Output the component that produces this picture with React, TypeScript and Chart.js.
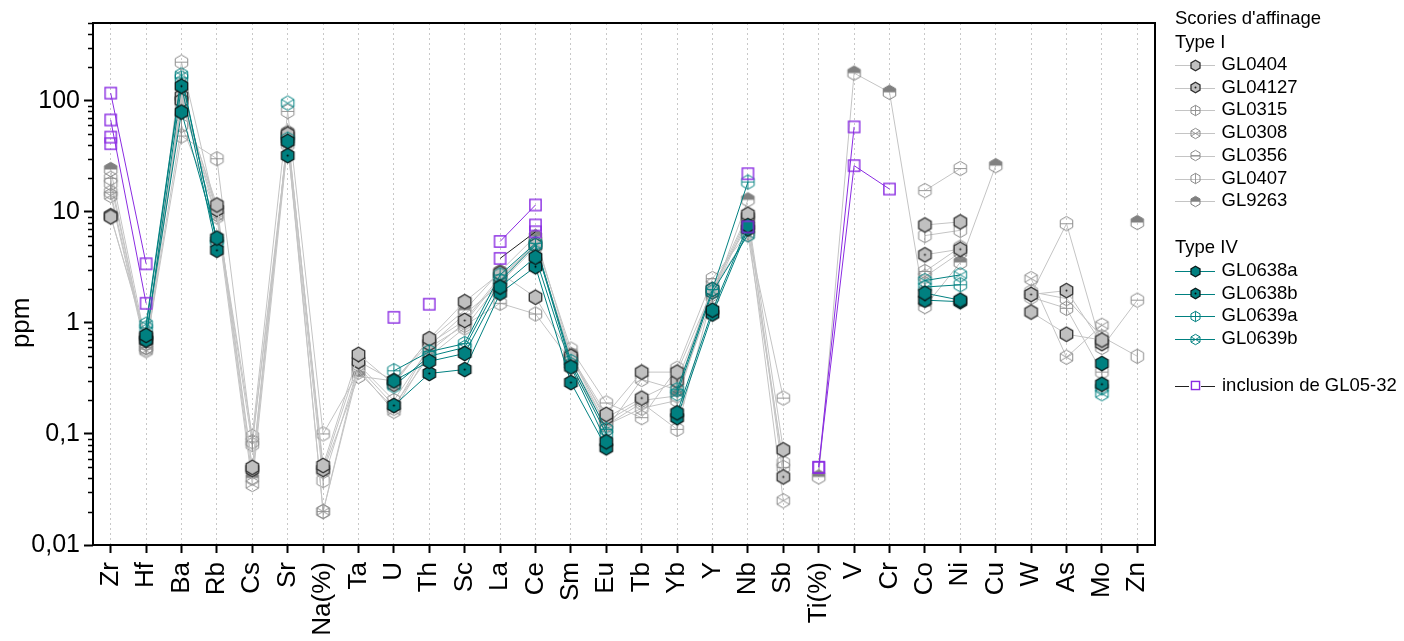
import { useEffect, useRef } from 'react';
import { Chart, registerables } from 'chart.js';
Chart.register(...registerables);

const FONT = "'Liberation Sans', Arial, sans-serif";

const categories = ['Zr', 'Hf', 'Ba', 'Rb', 'Cs', 'Sr', 'Na(%)', 'Ta', 'U', 'Th', 'Sc', 'La', 'Ce', 'Sm', 'Eu', 'Tb', 'Yb', 'Y', 'Nb', 'Sb', 'Ti(%)', 'V', 'Cr', 'Co', 'Ni', 'Cu', 'W', 'As', 'Mo', 'Zn'];
const yTickValues = [0.01, 0.1, 1, 10, 100];
const yTickLabels = ['0,01', '0,1', '1', '10', '100'];
const yTitle = 'ppm';

const _ = null;
// Type I
const GL0404 = [9, 0.75, 100, 11.5, 0.05, 50, 0.052, 0.52, 0.28, 0.72, 1.55, 2.8, 1.7, 0.5, 0.15, 0.36, 0.36, 2.0, 9.5, 0.072, _, _, _, 7.6, 8.1, _, 1.25, 0.79, 0.7, _];
const GL04127 = [9.2, 0.7, 110, 10.5, 0.048, 48, 0.048, 0.45, 0.3, 0.65, 1.05, 2.6, 5.0, 0.48, 0.14, 0.21, 0.3, 1.9, 9, 0.041, _, _, _, 4.1, 4.6, _, 1.8, 1.95, 0.65, _];
const GL0315 = [15, 0.6, 48, 30, 0.085, 45, 0.02, 0.42, 0.2, 0.6, 0.95, 1.5, 1.2, 0.45, 0.12, 0.19, 0.11, 1.8, 8.5, 0.05, _, _, _, 2.9, 4.8, _, 1.7, 1.35, 0.36, _];
const GL0308 = [14, 0.56, 100, 9, 0.035, 42, 0.02, 0.38, 0.16, 0.55, 1.0, 2.5, 5.2, 0.42, 0.11, 0.31, 0.25, 2.2, 7.5, 0.025, _, _, _, 2.6, 4.3, _, 2.5, 0.49, 0.95, _];
const GL0356 = [20, 0.58, 222, 9.5, 0.095, 80, 0.1, 0.36, 0.17, 0.62, 1.2, 2.2, 5.5, 0.58, 0.19, 0.14, 0.39, 2.5, 6.5, 0.21, _, _, _, 15.5, 24.5, _, 1.8, 7.8, 0.6, 1.6];
const GL0407 = [18, 0.6, 60, 9.5, 0.08, 40, 0.038, 0.4, 0.18, 0.5, 0.9, 2.3, 4.8, 0.5, 0.12, 0.17, 0.2, 2.0, 6.2, 0.055, _, _, _, 6.1, 6.8, _, 1.9, 1.65, 0.75, 0.5];
const GL9263 = [24, 0.65, 95, 10, 0.04, 52, 0.046, 0.33, 0.3, 0.7, 1.3, 2.9, 6.0, 0.52, 0.13, 0.2, 0.22, 1.7, 12.8, _, 0.041, 177, 119, 1.4, 3.5, 26, _, _, _, 8];
// Type IV
const GL0638a = [_, 0.77, 79, 5.8, _, 43, _, _, 0.3, 0.45, 0.53, 2.1, 3.9, 0.4, 0.085, _, 0.155, 1.3, 7.5, _, _, _, _, 1.85, 1.6, _, _, _, 0.43, _];
const GL0638b = [_, 0.7, 135, 4.5, _, 32, _, _, 0.18, 0.35, 0.38, 1.85, 3.2, 0.29, 0.075, _, 0.14, 1.2, 7.0, _, _, _, _, 1.6, 1.55, _, _, _, 0.28, _];
const GL0639a = [_, 0.9, 160, 5.5, _, 45, _, _, 0.37, 0.55, 0.65, 2.7, 5.2, 0.45, 0.11, _, 0.25, 2.0, 18.5, _, _, _, _, 2.1, 2.2, _, _, _, 0.26, _];
const GL0639b = [_, 0.97, 170, 5.2, _, 95, _, _, 0.27, 0.5, 0.6, 2.4, 5.0, 0.42, 0.1, _, 0.23, 1.9, 6.2, _, _, _, _, 2.4, 2.7, _, _, _, 0.23, _];
// inclusion de GL05-32 (several analyses)
const incA = [117, 3.4, _, _, _, _, _, _, _, _, _, 5.4, 11.5, _, _, _, _, _, _, _, 0.05, 58, _, _, _, _, _, _, _, _];
const incB = [67, 1.5, _, _, _, _, _, _, _, _, _, _, _, _, _, _, _, _, _, _, 0.05, 26, 16, _, _, _, _, _, _, _];
const incC = [47, _, _, _, _, _, _, _, 1.12, _, _, _, _, _, _, _, _, _, 22, _, _, _, _, _, _, _, _, _, _, _];
const incD = [41, _, _, _, _, _, _, _, _, 1.47, _, _, 7.6, _, _, _, _, _, 7.3, _, _, _, _, _, _, _, _, _, _, _];
const incE = [_, _, _, _, _, _, _, _, _, _, _, 3.8, 6.6, _, _, _, _, _, _, _, _, _, _, _, _, _, _, _, _, _];

type Inner = 'none' | 'dot' | 'plus' | 'x' | 'hline' | 'vline' | 'half';
type Spec = { shape: 'hex' | 'square'; fill: string; stroke: string; inner: Inner; innerColor: string; lw: number };

const GRAY_LINE = '#c4c4c4';
const TEAL = '#008080';
const PURPLE = '#8a2be2';

const specFilledGray = (inner: Inner): Spec => ({ shape: 'hex', fill: '#c0c0c0', stroke: '#303030', inner, innerColor: '#202020', lw: 1.3 });
const specOpenGray = (inner: Inner): Spec => ({ shape: 'hex', fill: 'rgba(0,0,0,0)', stroke: '#8c8c8c', inner, innerColor: '#8c8c8c', lw: 1 });
const specFilledTeal = (inner: Inner): Spec => ({ shape: 'hex', fill: TEAL, stroke: '#0a1a1a', inner, innerColor: '#000', lw: 1.3 });
const specOpenTeal = (inner: Inner): Spec => ({ shape: 'hex', fill: 'rgba(0,0,0,0)', stroke: TEAL, inner, innerColor: TEAL, lw: 1 });

function drawShape(ctx: CanvasRenderingContext2D, s: Spec, cx: number, cy: number, r: number) {
  ctx.save();
  ctx.lineWidth = s.lw;
  if (s.shape === 'square') {
    const h = r * 0.78;
    ctx.strokeStyle = PURPLE;
    ctx.lineWidth = 1.4;
    ctx.strokeRect(cx - h, cy - h, 2 * h, 2 * h);
    ctx.restore();
    return;
  }
  const pts: [number, number][] = [];
  for (let i = 0; i < 6; i++) {
    const a = (-90 + 60 * i) * Math.PI / 180;
    pts.push([cx + r * Math.cos(a), cy + r * Math.sin(a)]);
  }
  const path = () => {
    ctx.beginPath();
    pts.forEach((p, i) => (i ? ctx.lineTo(p[0], p[1]) : ctx.moveTo(p[0], p[1])));
    ctx.closePath();
  };
  const w = r * Math.sqrt(3) / 2;
  path();
  ctx.fillStyle = s.fill;
  ctx.fill();
  if (s.inner === 'half') {
    ctx.save();
    path();
    ctx.clip();
    ctx.fillStyle = '#808080';
    ctx.fillRect(cx - r, cy - r, 2 * r, r);
    ctx.restore();
  }
  ctx.strokeStyle = s.inner === 'half' ? '#808080' : s.stroke;
  path();
  ctx.stroke();
  ctx.strokeStyle = s.innerColor;
  ctx.fillStyle = s.innerColor;
  ctx.lineWidth = 0.9;
  ctx.beginPath();
  if (s.inner === 'plus') {
    ctx.moveTo(cx - w, cy); ctx.lineTo(cx + w, cy);
    ctx.moveTo(cx, cy - r); ctx.lineTo(cx, cy + r);
  } else if (s.inner === 'x') {
    ctx.moveTo(cx - w, cy - r / 2); ctx.lineTo(cx + w, cy + r / 2);
    ctx.moveTo(cx - w, cy + r / 2); ctx.lineTo(cx + w, cy - r / 2);
  } else if (s.inner === 'hline') {
    ctx.moveTo(cx - w, cy); ctx.lineTo(cx + w, cy);
  } else if (s.inner === 'vline') {
    ctx.moveTo(cx, cy - r); ctx.lineTo(cx, cy + r);
  }
  ctx.stroke();
  if (s.inner === 'dot') {
    ctx.beginPath();
    ctx.arc(cx, cy, 1, 0, Math.PI * 2);
    ctx.fill();
  }
  ctx.restore();
}

function makeMarker(s: Spec, r: number): HTMLCanvasElement {
  const size = Math.ceil(2 * r + 4);
  const c = document.createElement('canvas');
  c.width = size;
  c.height = size;
  const ctx = c.getContext('2d')!;
  drawShape(ctx, s, size / 2, size / 2, r);
  return c;
}

type Series = { label: string; data: (number | null)[]; color: string; spec: Spec; order: number };

const squareSpec: Spec = { shape: 'square', fill: 'none', stroke: PURPLE, inner: 'none', innerColor: PURPLE, lw: 1.4 };

const series: Series[] = [
  { label: 'GL0404', data: GL0404, color: GRAY_LINE, spec: specFilledGray('none'), order: 3 },
  { label: 'GL04127', data: GL04127, color: GRAY_LINE, spec: specFilledGray('dot'), order: 3 },
  { label: 'GL0315', data: GL0315, color: GRAY_LINE, spec: specOpenGray('plus'), order: 3 },
  { label: 'GL0308', data: GL0308, color: GRAY_LINE, spec: specOpenGray('x'), order: 3 },
  { label: 'GL0356', data: GL0356, color: GRAY_LINE, spec: specOpenGray('hline'), order: 3 },
  { label: 'GL0407', data: GL0407, color: GRAY_LINE, spec: specOpenGray('vline'), order: 3 },
  { label: 'GL9263', data: GL9263, color: GRAY_LINE, spec: specOpenGray('half'), order: 3 },
  { label: 'GL0638a', data: GL0638a, color: TEAL, spec: specFilledTeal('none'), order: 2 },
  { label: 'GL0638b', data: GL0638b, color: TEAL, spec: specFilledTeal('dot'), order: 2 },
  { label: 'GL0639a', data: GL0639a, color: TEAL, spec: specOpenTeal('plus'), order: 2 },
  { label: 'GL0639b', data: GL0639b, color: TEAL, spec: specOpenTeal('x'), order: 2 },
  { label: 'inclusion de GL05-32', data: incA, color: PURPLE, spec: squareSpec, order: 1 },
  { label: 'incB', data: incB, color: PURPLE, spec: squareSpec, order: 1 },
  { label: 'incC', data: incC, color: PURPLE, spec: squareSpec, order: 1 },
  { label: 'incD', data: incD, color: PURPLE, spec: squareSpec, order: 1 },
  { label: 'incE', data: incE, color: '#202020', spec: squareSpec, order: 1 },
];

export default function App() {
  const ref = useRef<HTMLCanvasElement>(null);
  useEffect(() => {
    document.body.style.margin = '0';
    const R = 7.2;
    const RL = 5.2;
    const datasets = series.map((s) => ({
      label: s.label,
      data: s.data,
      borderColor: s.color,
      backgroundColor: s.color,
      borderWidth: 1,
      pointStyle: makeMarker(s.spec, R),
      pointRadius: 6,
      pointHoverRadius: 6,
      spanGaps: false,
      tension: 0,
      fill: false,
      order: s.order,
    }));
    const legendMarkers = series.map((s) => makeMarker(s.spec, RL));

    const framePlugin = {
      id: 'frameLegend',
      afterDraw(chart: any) {
        const ctx: CanvasRenderingContext2D = chart.ctx;
        const { left, right, top, bottom } = chart.chartArea;
        const ys = chart.scales.y;
        ctx.save();
        // minor ticks
        ctx.strokeStyle = '#000';
        ctx.lineWidth = 1.5;
        ctx.beginPath();
        for (let e = -2; e <= 2; e++) {
          for (let k = 2; k <= 9; k++) {
            const v = k * Math.pow(10, e);
            if (v > 500) continue;
            const y = Math.round(ys.getPixelForValue(v)) + 0.5;
            ctx.moveTo(left - 5, y);
            ctx.lineTo(left, y);
          }
        }
        ctx.stroke();
        // frame
        ctx.lineWidth = 2;
        ctx.strokeStyle = '#000';
        ctx.strokeRect(left, top, right - left, bottom - top);

        // y title
        ctx.save();
        ctx.translate(22, ys.getPixelForValue(1));
        ctx.rotate(-Math.PI / 2);
        ctx.font = `26px ${FONT}`;
        ctx.fillStyle = '#000';
        ctx.textAlign = 'center';
        ctx.textBaseline = 'middle';
        ctx.fillText(yTitle, 0, 0);
        ctx.restore();

        // legend
        ctx.fillStyle = '#000';
        ctx.font = `18.5px ${FONT}`;
        ctx.textBaseline = 'middle';
        ctx.textAlign = 'left';
        const lx = 1175;
        ctx.fillText("Scories d'affinage", lx, 18.5);
        ctx.fillText('Type I', lx, 42.5);
        ctx.fillText('Type IV', lx, 247.5);
        const rows: [number, number][] = [
          [0, 65], [1, 87.7], [2, 110.4], [3, 133.1], [4, 155.8], [5, 178.5], [6, 201.2],
          [7, 271], [8, 293.7], [9, 316.4], [10, 339.1], [11, 385.5],
        ];
        rows.forEach(([i, y]) => {
          const s = series[i];
          const lineColor = i === 11 ? '#202020' : s.color;
          ctx.strokeStyle = lineColor;
          ctx.lineWidth = 1;
          ctx.beginPath();
          ctx.moveTo(lx, Math.round(y) + 0.5);
          ctx.lineTo(lx + 40, Math.round(y) + 0.5);
          ctx.stroke();
          const m = legendMarkers[i];
          const cx = lx + 20;
          if (i === 11) {
            ctx.fillStyle = '#fff';
            ctx.fillRect(cx - 6, y - 6, 12, 12);
          }
          ctx.drawImage(m, Math.round(cx - m.width / 2), Math.round(y - m.height / 2));
          ctx.fillStyle = '#000';
          ctx.fillText(s.label, i === 11 ? lx + 47 : lx + 46.5, y);
        });
        ctx.restore();
      },
    };

    const chart = new Chart(ref.current!, {
      type: 'line',
      data: { labels: categories, datasets: datasets as any },
      options: {
        animation: false,
        responsive: true,
        maintainAspectRatio: false,
        layout: { padding: { top: 23, right: 249, left: 0, bottom: 0 } },
        plugins: { legend: { display: false }, tooltip: { enabled: false } },
        scales: {
          x: {
            type: 'category',
            offset: true,
            grid: {
              offset: false,
              display: true,
              drawOnChartArea: true,
              color: '#c8c8c8',
              lineWidth: 1,
              drawTicks: true,
              tickLength: 8,
              tickColor: '#000',
              tickWidth: 2,
            },
            border: { display: false, dash: [2, 3] },
            ticks: {
              autoSkip: false,
              maxRotation: 90,
              minRotation: 90,
              padding: 9,
              color: '#000',
              font: { family: FONT, size: 26 },
            },
            afterFit: (s: any) => { s.height = 96; },
          },
          y: {
            type: 'logarithmic',
            min: 0.01,
            max: 500,
            position: 'left',
            grid: {
              drawOnChartArea: false,
              drawTicks: true,
              tickLength: 9,
              tickColor: '#000',
              tickWidth: 2,
            },
            border: { display: false },
            ticks: {
              padding: 4,
              color: '#000',
              font: { family: FONT, size: 25 },
              callback: (v: any) => {
                const i = yTickValues.findIndex((t) => Math.abs(t - Number(v)) < 1e-9);
                return i >= 0 ? yTickLabels[i] : '';
              },
            },
            afterBuildTicks: (s: any) => { s.ticks = yTickValues.map((v) => ({ value: v })); },
            afterFit: (s: any) => { s.width = 93; },
          },
        },
      },
      plugins: [framePlugin],
    });
    return () => chart.destroy();
  }, []);
  return (
    <div style={{ position: 'fixed', left: 0, top: 0, width: 1404, height: 641, background: '#fff' }}>
      <canvas ref={ref} />
    </div>
  );
}
